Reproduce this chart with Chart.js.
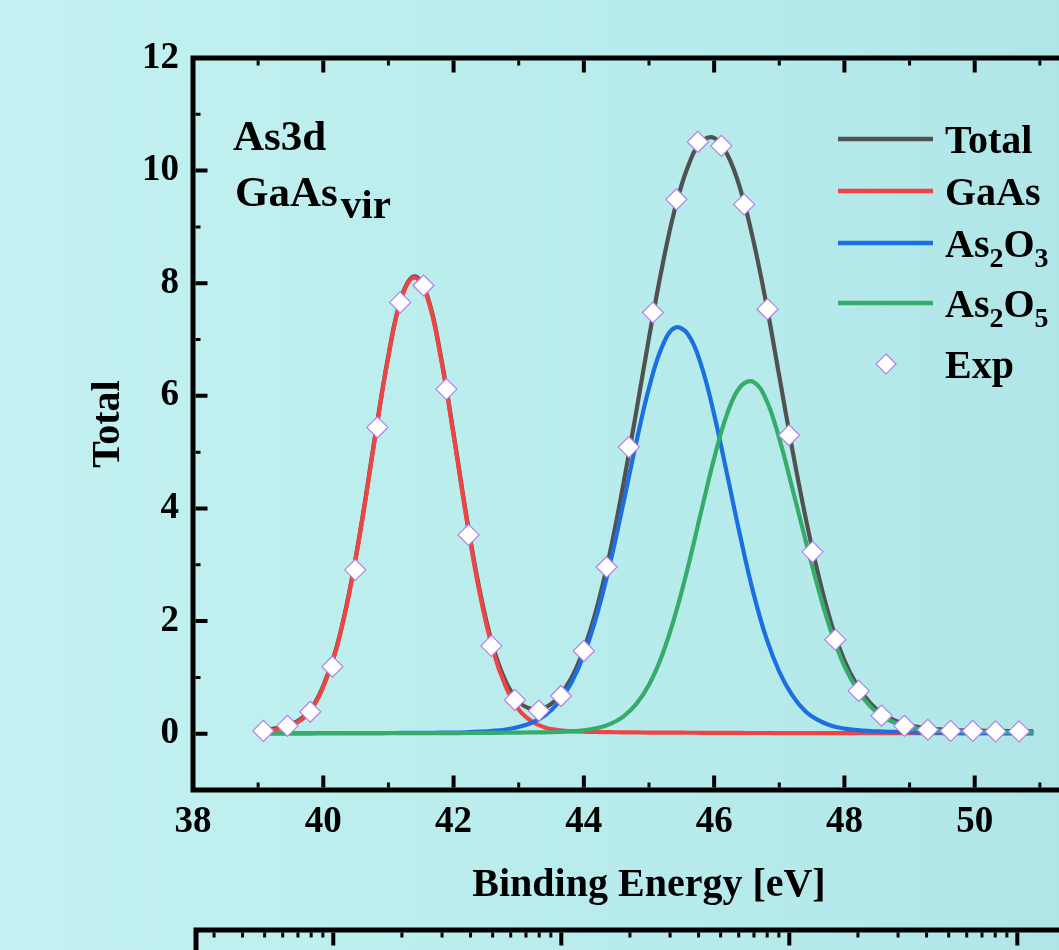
<!DOCTYPE html>
<html>
<head>
<meta charset="utf-8">
<script src="https://cdn.jsdelivr.net/npm/chart.js@4.4.1/dist/chart.umd.min.js"></script>
<style>
html, body { margin: 0; padding: 0; width: 1059px; height: 950px; overflow: hidden; }
body { background: linear-gradient(90deg, #c4f1f1 0%, #bdeeee 35%, #b6eaeb 70%, #b1e6e8 100%); position: relative; }
#c1 { position: absolute; left: 0; top: 0; }
#c2 { position: absolute; left: 0; top: 880px; }
</style>
</head>
<body>
<canvas id="c1" width="1160" height="950"></canvas>
<canvas id="c2" width="1160" height="200"></canvas>
<script>
// ---- data ----
const energy = [39.1, 39.2, 39.4, 39.6, 39.8, 40.0, 40.2, 40.4, 40.6, 40.8, 41.0, 41.2, 41.4, 41.6, 41.8, 42.0, 42.2, 42.4, 42.6, 42.8, 43.0, 43.2, 43.4, 43.6, 43.8, 44.0, 44.2, 44.4, 44.6, 44.8, 45.0, 45.2, 45.4, 45.6, 45.8, 46.0, 46.2, 46.4, 46.6, 46.8, 47.0, 47.2, 47.4, 47.6, 47.8, 48.0, 48.2, 48.4, 48.6, 48.8, 49.0, 49.2, 49.4, 49.6, 49.8, 50.0, 50.2, 50.4, 50.6, 50.8, 50.9];
const totalFit = [0.07, 0.08, 0.13, 0.22, 0.42, 0.85, 1.52, 2.52, 3.83, 5.32, 6.72, 7.75, 8.12, 7.76, 6.73, 5.33, 3.85, 2.55, 1.57, 0.93, 0.57, 0.44, 0.46, 0.64, 0.97, 1.50, 2.24, 3.21, 4.39, 5.69, 7.03, 8.28, 9.33, 10.08, 10.51, 10.58, 10.29, 9.68, 8.77, 7.64, 6.35, 5.05, 3.86, 2.82, 1.95, 1.30, 0.85, 0.54, 0.34, 0.22, 0.15, 0.11, 0.08, 0.07, 0.06, 0.06, 0.05, 0.05, 0.045, 0.042, 0.041];
const gaas = [0.05, 0.06, 0.11, 0.20, 0.40, 0.83, 1.50, 2.50, 3.81, 5.30, 6.70, 7.73, 8.10, 7.73, 6.70, 5.30, 3.81, 2.50, 1.50, 0.84, 0.43, 0.22, 0.11, 0.065, 0.045, 0.035, 0.03, 0.027, 0.025, 0.022, 0.02, 0.019, 0.018, 0.017, 0.016, 0.015, 0.014, 0.013, 0.012, 0.012, 0.011, 0.011, 0.01, 0.01, 0.01, 0.009, 0.009, 0.009, 0.008, 0.008, 0.008, 0.008, 0.008, 0.007, 0.007, 0.007, 0.007, 0.007, 0.006, 0.006, 0.006];
const as2o3 = [0.005, 0.005, 0.006, 0.006, 0.007, 0.008, 0.008, 0.009, 0.010, 0.011, 0.012, 0.013, 0.014, 0.016, 0.018, 0.02, 0.025, 0.035, 0.05, 0.075, 0.12, 0.195, 0.32, 0.54, 0.885, 1.40, 2.11, 3.01, 4.06, 5.15, 6.14, 6.87, 7.21, 7.09, 6.55, 5.67, 4.60, 3.51, 2.51, 1.70, 1.10, 0.68, 0.40, 0.24, 0.14, 0.09, 0.062, 0.047, 0.038, 0.031, 0.026, 0.023, 0.02, 0.018, 0.016, 0.015, 0.013, 0.012, 0.011, 0.01, 0.01];
const as2o5 = [0.01, 0.01, 0.01, 0.01, 0.01, 0.01, 0.01, 0.01, 0.01, 0.01, 0.01, 0.01, 0.01, 0.01, 0.01, 0.01, 0.012, 0.013, 0.015, 0.017, 0.02, 0.022, 0.025, 0.03, 0.04, 0.06, 0.10, 0.17, 0.30, 0.52, 0.87, 1.39, 2.10, 2.97, 3.94, 4.89, 5.68, 6.16, 6.25, 5.93, 5.24, 4.36, 3.45, 2.57, 1.80, 1.20, 0.78, 0.48, 0.295, 0.18, 0.113, 0.076, 0.056, 0.047, 0.04, 0.035, 0.032, 0.03, 0.028, 0.026, 0.025];
const expEnergy = [39.08, 39.45, 39.80, 40.14, 40.49, 40.83, 41.18, 41.54, 41.89, 42.23, 42.58, 42.94, 43.31, 43.65, 44.00, 44.35, 44.69, 45.06, 45.42, 45.75, 46.11, 46.46, 46.82, 47.15, 47.51, 47.86, 48.22, 48.57, 48.92, 49.28, 49.63, 49.97, 50.32, 50.68];
const expCounts = [0.05, 0.14, 0.39, 1.19, 2.91, 5.44, 7.66, 7.96, 6.12, 3.53, 1.56, 0.60, 0.41, 0.67, 1.47, 2.96, 5.09, 7.48, 9.49, 10.51, 10.44, 9.40, 7.54, 5.30, 3.23, 1.67, 0.76, 0.32, 0.14, 0.07, 0.05, 0.05, 0.04, 0.04];
const xRange = [38, 52];
const yRange = [-1, 12];
const lowerAxisRange = [0.25, 2400];

const FONT = '"Liberation Serif", "Times New Roman", serif';
const COLORS = { total: '#515151', gaas: '#f04444', as2o3: '#1c6fe0', as2o5: '#37ab6b', exp: '#b37ee8' };

const pts = (xs, ys) => xs.map((x, i) => ({ x: x, y: ys[i] }));

function curve(label, ys, color, order) {
  return { label, data: pts(energy, ys), showLine: true, borderColor: color, backgroundColor: color,
    borderWidth: 4.2, pointRadius: 0, tension: 0.4, order, clip: false };
}

const framePlugin = {
  id: 'frameTicks',
  afterDraw(chart) {
    const ctx = chart.ctx, a = chart.chartArea, xs = chart.scales.x, ys = chart.scales.y;
    ctx.save();
    ctx.strokeStyle = '#000';
    ctx.lineCap = 'butt';
    const hw = 2.5;
    // inward ticks
    for (let v = xs.min + 1; v < xs.max; v++) {
      const px = xs.getPixelForValue(v);
      const major = v % 2 === 0;
      const len = major ? 12 : 5;
      ctx.lineWidth = major ? 4 : 3;
      ctx.beginPath();
      ctx.moveTo(px, a.bottom - hw); ctx.lineTo(px, a.bottom - hw - len);
      ctx.moveTo(px, a.top + hw); ctx.lineTo(px, a.top + hw + len);
      ctx.stroke();
    }
    for (let v = ys.min + 1; v < ys.max; v++) {
      const py = ys.getPixelForValue(v);
      const major = v % 2 === 0;
      const len = major ? 12 : 5;
      ctx.lineWidth = major ? 4 : 3;
      ctx.beginPath();
      ctx.moveTo(a.left + hw, py); ctx.lineTo(a.left + hw + len, py);
      ctx.moveTo(a.right - hw, py); ctx.lineTo(a.right - hw - len, py);
      ctx.stroke();
    }
    // frame
    ctx.lineWidth = 5;
    ctx.beginPath();
    ctx.rect(a.left, a.top, a.right - a.left, a.bottom - a.top);
    ctx.stroke();

    // annotation text
    ctx.fillStyle = '#000';
    ctx.textBaseline = 'alphabetic';
    ctx.textAlign = 'left';
    ctx.font = 'bold 43px ' + FONT;
    ctx.fillText('As3d', 233, 150);
    ctx.fillText('GaAs', 235, 206);
    const w = ctx.measureText('GaAs').width;
    ctx.font = 'bold 41px ' + FONT;
    ctx.fillText('vir', 235 + w + 3, 218);

    // legend
    const legend = [
      { color: COLORS.total, parts: [['Total', 0]], y: 139 },
      { color: COLORS.gaas, parts: [['GaAs', 0]], y: 191 },
      { color: COLORS.as2o3, parts: [['As', 0], ['2', 1], ['O', 0], ['3', 1]], y: 243 },
      { color: COLORS.as2o5, parts: [['As', 0], ['2', 1], ['O', 0], ['5', 1]], y: 303 }
    ];
    legend.forEach(item => {
      ctx.strokeStyle = item.color;
      ctx.lineWidth = 4.5;
      ctx.beginPath(); ctx.moveTo(838, item.y); ctx.lineTo(933, item.y); ctx.stroke();
      let x = 945;
      const base = item.y + 13.5;
      item.parts.forEach(([t, sub]) => {
        ctx.font = sub ? 'bold 28px ' + FONT : 'bold 40px ' + FONT;
        ctx.fillText(t, x, sub ? base + 10 : base);
        x += ctx.measureText(t).width;
      });
    });
    // Exp legend marker
    const cx = 886, cy = 364, r = 10;
    ctx.beginPath();
    ctx.moveTo(cx, cy - r); ctx.lineTo(cx + r, cy); ctx.lineTo(cx, cy + r); ctx.lineTo(cx - r, cy); ctx.closePath();
    ctx.fillStyle = '#fff'; ctx.fill();
    ctx.strokeStyle = COLORS.exp; ctx.lineWidth = 1.2; ctx.stroke();
    ctx.fillStyle = '#000';
    ctx.font = 'bold 40px ' + FONT;
    ctx.fillText('Exp', 945, 377.5);
    ctx.restore();
  }
};

const tickFont = { family: FONT, size: 37, weight: 'bold' };
const titleFont = { family: FONT, size: 40, weight: 'bold' };

new Chart(document.getElementById('c1'), {
  type: 'scatter',
  data: {
    datasets: [
      { label: 'Exp', data: pts(expEnergy, expCounts), pointStyle: 'rectRot', pointRadius: 10.5,
        pointBackgroundColor: '#ffffff', pointBorderColor: COLORS.exp, pointBorderWidth: 1.2, showLine: false, order: 0, clip: false },
      curve('As2O5', as2o5, COLORS.as2o5, 1),
      curve('As2O3', as2o3, COLORS.as2o3, 2),
      curve('GaAs', gaas, COLORS.gaas, 3),
      curve('Total', totalFit, COLORS.total, 4)
    ]
  },
  options: {
    responsive: false,
    animation: false,
    devicePixelRatio: 1,
    events: [],
    layout: { padding: { left: 0, top: 58, right: 55, bottom: 0 } },
    plugins: { legend: { display: false }, tooltip: { enabled: false } },
    scales: {
      x: {
        type: 'linear', min: xRange[0], max: xRange[1],
        grid: { display: false, drawTicks: false }, border: { display: false },
        ticks: { stepSize: 2, autoSkip: false, maxRotation: 0, padding: 10, color: '#000', font: tickFont },
        title: { display: true, text: 'Binding Energy [eV]', color: '#000', font: titleFont, padding: { top: 0, bottom: 40 } },
        afterFit: s => { s.height = 160; }
      },
      y: {
        type: 'linear', min: yRange[0], max: yRange[1],
        grid: { display: false, drawTicks: false }, border: { display: false },
        ticks: { stepSize: 2, includeBounds: false, padding: 14, color: '#000', font: tickFont },
        title: { display: true, text: 'Total', color: '#000', font: titleFont, padding: { top: 85, bottom: 0 } },
        afterFit: s => { s.width = 193; }
      }
    }
  },
  plugins: [framePlugin]
});

// partial lower panel (log axis, only its top edge is visible)
const lowerPlugin = {
  id: 'lowerFrame',
  afterDraw(chart) {
    const ctx = chart.ctx, a = chart.chartArea, xs = chart.scales.x;
    ctx.save();
    ctx.strokeStyle = '#000';
    ctx.lineWidth = 5;
    ctx.beginPath();
    ctx.moveTo(a.left, a.bottom); ctx.lineTo(a.left, a.top); ctx.lineTo(a.right, a.top);
    ctx.stroke();
    for (let e = -1; e <= 3; e++) {
      for (let k = 1; k <= 9; k++) {
        const v = k * Math.pow(10, e);
        if (v <= xs.min || v >= xs.max) continue;
        const px = xs.getPixelForValue(v);
        const major = k === 1;
        ctx.lineWidth = major ? 4 : 3;
        ctx.beginPath();
        ctx.moveTo(px, a.top + 2.5); ctx.lineTo(px, a.top + 2.5 + (major ? 13 : 5));
        ctx.stroke();
      }
    }
    ctx.restore();
  }
};

new Chart(document.getElementById('c2'), {
  type: 'scatter',
  data: { datasets: [] },
  options: {
    responsive: false, animation: false, devicePixelRatio: 1, events: [],
    layout: { padding: { left: 196, top: 50, right: 56, bottom: 0 } },
    plugins: { legend: { display: false }, tooltip: { enabled: false } },
    scales: {
      x: { type: 'logarithmic', min: lowerAxisRange[0], max: lowerAxisRange[1], display: false },
      y: { type: 'linear', min: 0, max: 1, display: false }
    }
  },
  plugins: [lowerPlugin]
});
</script>
</body>
</html>
